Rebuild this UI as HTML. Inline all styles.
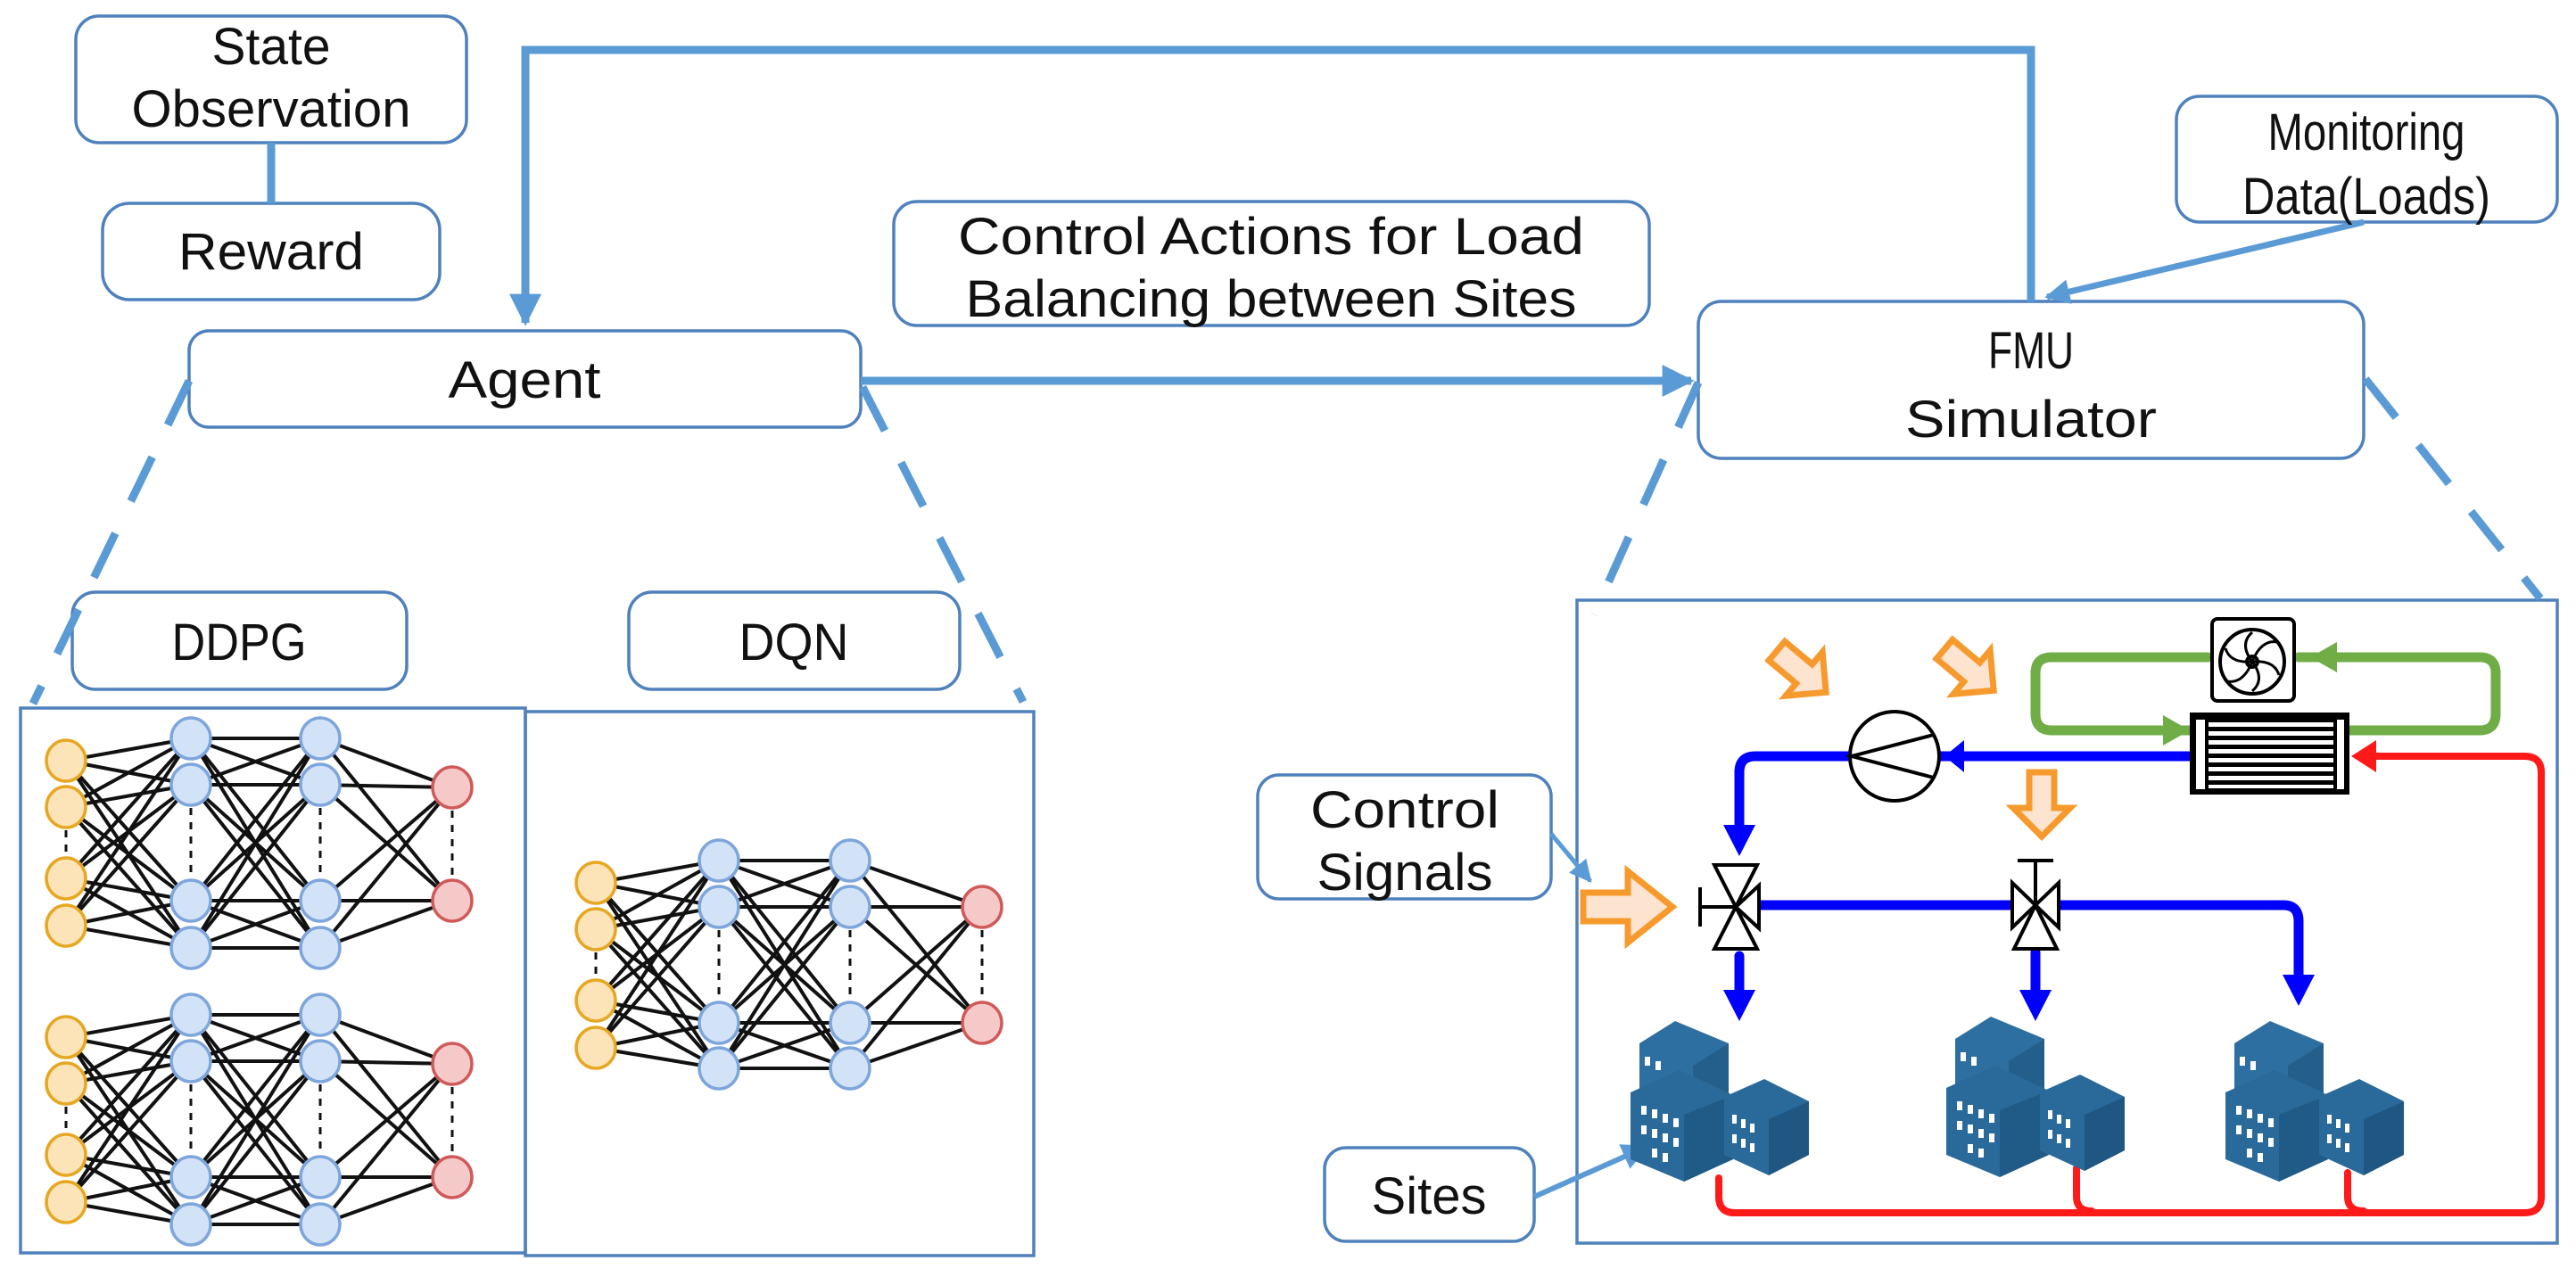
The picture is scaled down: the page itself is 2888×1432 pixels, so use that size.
<!DOCTYPE html>
<html><head><meta charset="utf-8"><style>
html,body{margin:0;padding:0;background:#fff}
svg{display:block}
text{font-family:"Liberation Sans",sans-serif;fill:#111}
</style></head><body>
<svg id="s" width="2888" height="1432" viewBox="0 0 2888 1432" xmlns="http://www.w3.org/2000/svg">
<defs>
<marker id="ab" viewBox="0 0 10 10" refX="9" refY="5" markerWidth="4" markerHeight="4" orient="auto"><path d="M0,0L10,5L0,10z" fill="#5b9bd5"/></marker>
<marker id="ab2" viewBox="0 0 10 10" refX="9" refY="5" markerWidth="5" markerHeight="5" orient="auto"><path d="M0,0L10,5L0,10z" fill="#5b9bd5"/></marker>
<g id="bld">
 <polygon points="0,40 40,15 100,40 100,120 60,145 0,120" fill="#2d6fa0"/>
 <polygon points="60,65 100,40 100,120 60,145" fill="#245f8c"/>
 <polygon points="-10,95 45,70 105,98 105,170 50,195 -10,170" fill="#2a6a9a"/>
 <polygon points="50,120 105,98 105,170 50,195" fill="#205a86"/>
 <polygon points="95,100 140,80 190,105 190,165 145,188 95,165" fill="#2a6a9a"/>
 <polygon points="145,125 190,105 190,165 145,188" fill="#1f5782"/>
 <g fill="#fff">
  <rect x="2" y="110" width="6" height="10"/><rect x="14" y="114" width="6" height="10"/><rect x="26" y="119" width="6" height="10"/><rect x="38" y="124" width="6" height="10"/>
  <rect x="2" y="132" width="6" height="10"/><rect x="14" y="136" width="6" height="10"/><rect x="26" y="141" width="6" height="10"/><rect x="38" y="146" width="6" height="10"/>
  <rect x="14" y="158" width="6" height="10"/><rect x="26" y="163" width="6" height="10"/>
  <rect x="104" y="120" width="5" height="10"/><rect x="114" y="125" width="5" height="10"/><rect x="124" y="130" width="5" height="10"/>
  <rect x="104" y="142" width="5" height="10"/><rect x="114" y="147" width="5" height="10"/><rect x="124" y="152" width="5" height="10"/>
  <rect x="6" y="55" width="6" height="10"/><rect x="18" y="60" width="6" height="10"/>
 </g>
</g>
</defs>
<g fill="none" stroke="#4f81bd" stroke-width="3.5">
 <rect x="85" y="18" width="438" height="142" rx="26"/>
 <rect x="115" y="228" width="378" height="108" rx="30"/>
 <rect x="212" y="371" width="753" height="108" rx="22"/>
 <rect x="1002" y="226" width="847" height="139" rx="26"/>
 <rect x="2440" y="108" width="427" height="141" rx="26"/>
 <rect x="1904" y="338" width="746" height="176" rx="26"/>
 <rect x="81" y="664" width="375" height="109" rx="26"/>
 <rect x="705" y="664" width="371" height="109" rx="26"/>
 <rect x="23" y="794" width="566" height="611"/>
 <rect x="589" y="798" width="570" height="610"/>
 <rect x="1768" y="673" width="1099" height="721"/>
 <rect x="1410" y="869" width="329" height="139" rx="24"/>
 <rect x="1485" y="1287" width="235" height="105" rx="24"/>
</g>
<g stroke="#5b9bd5" fill="none">
 <line x1="304" y1="160" x2="304" y2="228" stroke-width="9"/>
 <polyline points="2277,338 2277,56 589,56 589,362" stroke-width="9" marker-end="url(#ab)"/>
 <line x1="965" y1="427" x2="1896" y2="427" stroke-width="9" marker-end="url(#ab)"/>
 <line x1="2650" y1="249" x2="2295" y2="333" stroke-width="7" marker-end="url(#ab)"/>
 <line x1="1739" y1="935" x2="1783" y2="988" stroke-width="5" marker-end="url(#ab2)"/>
 <line x1="1720" y1="1342" x2="1846" y2="1286" stroke-width="6" marker-end="url(#ab2)"/>
 <g stroke-width="9" stroke-dasharray="55,40">
  <line x1="212" y1="427" x2="37" y2="789"/>
  <line x1="967" y1="434" x2="1147" y2="787"/>
  <line x1="1904" y1="429" x2="1787" y2="689"/>
  <line x1="2652" y1="425" x2="2848" y2="671"/>
 </g>
</g>
<g font-size="58" text-anchor="middle" lengthAdjust="spacingAndGlyphs">
 <text x="304" y="72" textLength="133" lengthAdjust="spacingAndGlyphs">State</text><text x="304" y="142" textLength="313" lengthAdjust="spacingAndGlyphs">Observation</text>
 <text x="304" y="302" textLength="208" lengthAdjust="spacingAndGlyphs">Reward</text>
 <text x="588" y="446" textLength="171" lengthAdjust="spacingAndGlyphs">Agent</text>
 <text x="1425" y="285" textLength="702" lengthAdjust="spacingAndGlyphs">Control Actions for Load</text><text x="1425" y="355" textLength="685" lengthAdjust="spacingAndGlyphs">Balancing between Sites</text>
 <text x="2653" y="168" textLength="221" lengthAdjust="spacingAndGlyphs">Monitoring</text><text x="2653" y="240" textLength="278" lengthAdjust="spacingAndGlyphs">Data(Loads)</text>
 <text x="2277" y="413" textLength="96" lengthAdjust="spacingAndGlyphs">FMU</text><text x="2277" y="490" textLength="282" lengthAdjust="spacingAndGlyphs">Simulator</text>
 <text x="268" y="740" textLength="151" lengthAdjust="spacingAndGlyphs">DDPG</text><text x="890" y="740" textLength="123" lengthAdjust="spacingAndGlyphs">DQN</text>
 <text x="1575" y="928" textLength="212" lengthAdjust="spacingAndGlyphs">Control</text><text x="1575" y="998" textLength="197" lengthAdjust="spacingAndGlyphs">Signals</text>
 <text x="1602" y="1361" textLength="129" lengthAdjust="spacingAndGlyphs">Sites</text>
</g>
<g id="nets"></g>
<g fill="none" stroke-linecap="round" stroke-linejoin="round">
 <path d="M2457,819 H2300 Q2282,819 2282,800 V755 Q2282,737 2300,737 H2475" stroke="#70ad47" stroke-width="11"/>
 <path d="M2577,737 H2780 Q2798,737 2798,755 V800 Q2798,819 2780,819 H2632" stroke="#70ad47" stroke-width="11"/>
 <path d="M2457,848 H2174" stroke="#0000ff" stroke-width="11"/>
 <path d="M2074,848 H1968 Q1950,848 1950,866 V935" stroke="#0000ff" stroke-width="11"/>
 <path d="M1972,1015 H2258" stroke="#0000ff" stroke-width="11"/>
 <path d="M2308,1015 H2560 Q2577,1015 2577,1033 V1105" stroke="#0000ff" stroke-width="11"/>
 <path d="M1950,1072 V1125" stroke="#0000ff" stroke-width="11"/>
 <path d="M2282,1068 V1125" stroke="#0000ff" stroke-width="11"/>
 <path d="M2645,848 H2830 Q2849,848 2849,866 V1342 Q2849,1360 2830,1360 H1945 Q1927,1360 1927,1342 V1321" stroke="#ff1a1a" stroke-width="8"/>
 <path d="M2328,1310 V1342 Q2328,1358 2345,1358" stroke="#ff1a1a" stroke-width="8"/>
 <path d="M2632,1315 V1342 Q2632,1358 2650,1358" stroke="#ff1a1a" stroke-width="8"/>
</g>
<g stroke="none">
 <polygon points="2590,737 2620,720 2620,754" fill="#70ad47"/>
 <polygon points="2455,819 2425,802 2425,836" fill="#70ad47"/>
 <polygon points="2180,848 2202,830 2202,866" fill="#0000ff"/>
 <polygon points="1950,960 1932,925 1968,925" fill="#0000ff"/>
 <polygon points="1950,1145 1932,1110 1968,1110" fill="#0000ff"/>
 <polygon points="2282,1145 2264,1110 2300,1110" fill="#0000ff"/>
 <polygon points="2577,1128 2559,1093 2595,1093" fill="#0000ff"/>
 <polygon points="2636,848 2664,830 2664,866" fill="#ff1a1a"/>
</g>
<circle cx="2124" cy="848" r="50" fill="#fff" stroke="#000" stroke-width="4"/>
<polyline points="2168,824 2076,848 2168,872" fill="none" stroke="#000" stroke-width="4"/>
<g fill="#fff" stroke="#000" stroke-width="4">
 <polygon points="1922,970 1970,970 1946,1017"/><polygon points="1922,1064 1970,1064 1946,1017"/>
 <polygon points="1972,993 1972,1041 1946,1017"/>
 <line x1="1906" y1="1017" x2="1946" y2="1017"/><line x1="1906" y1="995" x2="1906" y2="1039"/>
 <polygon points="2256,990 2256,1040 2282,1015"/><polygon points="2308,990 2308,1040 2282,1015"/>
 <polygon points="2258,1064 2306,1064 2282,1015"/>
 <line x1="2282" y1="965" x2="2282" y2="1015"/><line x1="2262" y1="965" x2="2302" y2="965"/>
</g>
<g stroke="#000" stroke-width="4" fill="#fff">
 <rect x="2480" y="694" width="92" height="92" rx="6"/>
 <circle cx="2525" cy="742" r="36" fill="#fff"/>
 <circle cx="2525" cy="742" r="6" fill="#fff"/>
 <rect x="2457" y="801" width="175" height="88" fill="#000"/>
</g>
<g fill="#fff">
 <rect x="2462" y="807" width="10" height="78"/><rect x="2620" y="807" width="8" height="78"/>
 <rect x="2476" y="810" width="140" height="5"/><rect x="2476" y="820" width="140" height="5"/><rect x="2476" y="830" width="140" height="5"/><rect x="2476" y="840" width="140" height="5"/><rect x="2476" y="850" width="140" height="5"/><rect x="2476" y="860" width="140" height="5"/><rect x="2476" y="870" width="140" height="5"/><rect x="2476" y="880" width="140" height="4"/>
</g>
<g stroke="#000" stroke-width="3" fill="none">
 <path d="M2525,742 q10,-25 28,-22 M2525,742 q25,-2 30,15 M2525,742 q15,20 0,33 M2525,742 q-10,25 -28,22 M2525,742 q-25,2 -30,-15 M2525,742 q-15,-20 0,-33"/>
</g>
<g fill="#fce4d0" stroke="#f79a2e" stroke-width="7" stroke-linejoin="miter">
 <polygon points="0,-14 40,-14 40,-32 72,0 40,32 40,14 0,14" transform="translate(1992,730) rotate(40)"/>
 <polygon points="0,-14 40,-14 40,-32 72,0 40,32 40,14 0,14" transform="translate(2180,728) rotate(40)"/>
 <polygon points="0,-14 40,-14 40,-32 72,0 40,32 40,14 0,14" transform="translate(2289,866) rotate(90)"/>
 <polygon points="0,-16 50,-16 50,-40 100,0 50,40 50,16 0,16" transform="translate(1775,1017)"/>
</g>
<use href="#bld" x="1838" y="1130"/>
<use href="#bld" x="2192" y="1125"/>
<use href="#bld" x="2505" y="1130"/>
</svg>
<script>
var ns="http://www.w3.org/2000/svg",g=document.getElementById("nets");
function el(t,a){var e=document.createElementNS(ns,t);for(var k in a)e.setAttribute(k,a[k]);g.appendChild(e);return e;}
function net(L){
 for(var i=0;i<L.length-1;i++)for(var a=0;a<L[i].ys.length;a++)for(var b=0;b<L[i+1].ys.length;b++)
  el("line",{x1:L[i].x,y1:L[i].ys[a],x2:L[i+1].x,y2:L[i+1].ys[b],stroke:"#111","stroke-width":4});
 L.forEach(function(l){
  var n=l.ys.length,m=n/2;
  el("line",{x1:l.x,y1:l.ys[m-1]+26,x2:l.x,y2:l.ys[m]-26,stroke:"#111","stroke-width":3,"stroke-dasharray":"8,8"});
  l.ys.forEach(function(y){el("ellipse",{cx:l.x,cy:y,rx:22,ry:23,fill:l.f,stroke:l.s,"stroke-width":3.5});});
 });
}
var O={f:"#fde3b8",s:"#e6a722"},B={f:"#d3e3f7",s:"#7ea6dc"},R={f:"#f6c9c9",s:"#d05a5a"};
function mk(x0,y0,xs,ins,hid,out){return [
 {x:xs[0],ys:ins.map(function(v){return v+y0}),f:O.f,s:O.s},
 {x:xs[1],ys:hid.map(function(v){return v+y0}),f:B.f,s:B.s},
 {x:xs[2],ys:hid.map(function(v){return v+y0}),f:B.f,s:B.s},
 {x:xs[3],ys:out.map(function(v){return v+y0}),f:R.f,s:R.s}];}
net(mk(0,0,[74,214,359,507],[853,905,985,1038],[828,880,1010,1063],[883,1010]));
net(mk(0,310,[74,214,359,507],[853,905,985,1038],[828,880,1010,1063],[883,1010]));
net(mk(0,0,[668,806,953,1101],[990,1042,1122,1175],[965,1017,1147,1198],[1017,1147]));
</script>
</body></html>
